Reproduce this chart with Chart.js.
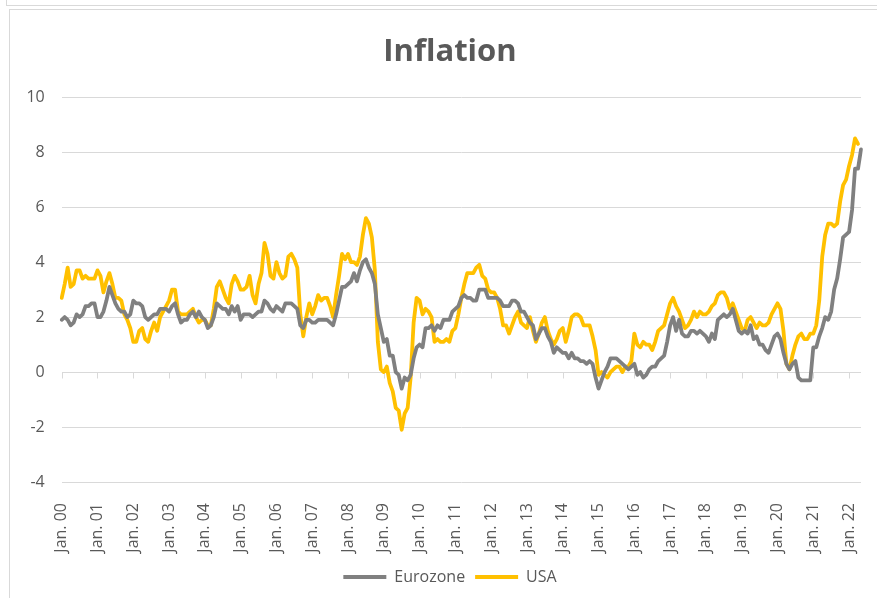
<!DOCTYPE html>
<html>
<head>
<meta charset="utf-8">
<script src="https://cdn.jsdelivr.net/npm/chart.js@4"></script>
<style>
  body { margin: 0; background: #fff; }
  #wrap { position: relative; width: 877px; height: 598px; overflow: hidden; }
  .frame { position: absolute; border: 1px solid #d9d9d9; }
  #frameTop { left: 6px; top: -20px; width: 900px; height: 24px; }
  #frameChart { left: 9px; top: 9px; width: 900px; height: 620px; }
  canvas { position: absolute; left: 0; top: 0; }
</style>
</head>
<body>
<div id="wrap">
  <div class="frame" id="frameTop"></div>
  <div class="frame" id="frameChart"></div>
  <!-- the original chart runs on past the right edge of the shot, so the canvas does too -->
  <canvas id="chart" width="900" height="598"></canvas>
</div>
<script>
/* ==========================
   DATA
========================== */
const monthNames = ["Jan.", "Feb.", "Mar.", "Apr.", "May", "Jun.", "Jul.", "Aug.", "Sep.", "Oct.", "Nov.", "Dec."];
const years = ["00", "01", "02", "03", "04", "05", "06", "07", "08", "09", "10",
               "11", "12", "13", "14", "15", "16", "17", "18", "19", "20", "21", "22"];
const lastMonth = 5; // data runs to May 2022

const yTicks = [-4, -2, 0, 2, 4, 6, 8, 10];

// year-on-year inflation, %, monthly from Jan. 2000
const eurozone = [
    1.9, 2.0, 1.9, 1.7, 1.8, 2.1, 2.0, 2.1, 2.4, 2.4, 2.5, 2.5,
    2.0, 2.0, 2.2, 2.6, 3.1, 2.8, 2.5, 2.3, 2.2, 2.2, 2.0, 2.1,
    2.6, 2.5, 2.5, 2.4, 2.0, 1.9, 2.0, 2.1, 2.1, 2.3, 2.3, 2.3,
    2.2, 2.4, 2.5, 2.1, 1.8, 1.9, 1.9, 2.1, 2.2, 2.0, 2.2, 2.0,
    1.9, 1.6, 1.7, 2.0, 2.5, 2.4, 2.3, 2.3, 2.1, 2.4, 2.2, 2.4,
    1.9, 2.1, 2.1, 2.1, 2.0, 2.1, 2.2, 2.2, 2.6, 2.5, 2.3, 2.2,
    2.4, 2.3, 2.2, 2.5, 2.5, 2.5, 2.4, 2.3, 1.7, 1.6, 1.9, 1.9,
    1.8, 1.8, 1.9, 1.9, 1.9, 1.9, 1.8, 1.7, 2.1, 2.6, 3.1, 3.1,
    3.2, 3.3, 3.6, 3.3, 3.7, 4.0, 4.1, 3.8, 3.6, 3.2, 2.1, 1.6,
    1.1, 1.2, 0.6, 0.6, 0.0, -0.1, -0.6, -0.2, -0.3, -0.1, 0.5, 0.9,
    1.0, 0.9, 1.6, 1.6, 1.7, 1.5, 1.7, 1.6, 1.9, 1.9, 1.9, 2.2,
    2.3, 2.4, 2.7, 2.8, 2.7, 2.7, 2.6, 2.6, 3.0, 3.0, 3.0, 2.7,
    2.7, 2.7, 2.7, 2.6, 2.4, 2.4, 2.4, 2.6, 2.6, 2.5, 2.2, 2.2,
    2.0, 1.8, 1.7, 1.2, 1.4, 1.6, 1.6, 1.3, 1.1, 0.7, 0.9, 0.8,
    0.7, 0.7, 0.5, 0.7, 0.5, 0.5, 0.4, 0.4, 0.3, 0.4, 0.3, -0.2,
    -0.6, -0.3, 0.0, 0.2, 0.5, 0.5, 0.5, 0.4, 0.3, 0.2, 0.1, 0.2,
    0.3, -0.1, 0.0, -0.2, -0.1, 0.1, 0.2, 0.2, 0.4, 0.5, 0.6, 1.1,
    1.7, 2.0, 1.5, 1.9, 1.4, 1.3, 1.3, 1.5, 1.5, 1.4, 1.5, 1.4,
    1.3, 1.1, 1.4, 1.2, 1.9, 2.0, 2.1, 2.0, 2.1, 2.3, 1.9, 1.5,
    1.4, 1.5, 1.4, 1.7, 1.2, 1.3, 1.0, 1.0, 0.8, 0.7, 1.0, 1.3,
    1.4, 1.2, 0.7, 0.3, 0.1, 0.3, 0.4, -0.2, -0.3, -0.3, -0.3, -0.3,
    0.9, 0.9, 1.3, 1.6, 2.0, 1.9, 2.2, 3.0, 3.4, 4.1, 4.9, 5.0,
    5.1, 5.9, 7.4, 7.4, 8.1
];

const usa = [
    2.7, 3.2, 3.8, 3.1, 3.2, 3.7, 3.7, 3.4, 3.5, 3.4, 3.4, 3.4,
    3.7, 3.5, 2.9, 3.3, 3.6, 3.2, 2.7, 2.7, 2.6, 2.1, 1.9, 1.6,
    1.1, 1.1, 1.5, 1.6, 1.2, 1.1, 1.5, 1.8, 1.5, 2.0, 2.2, 2.4,
    2.6, 3.0, 3.0, 2.2, 2.1, 2.1, 2.1, 2.2, 2.3, 2.0, 1.8, 1.9,
    1.9, 1.7, 1.7, 2.3, 3.1, 3.3, 3.0, 2.7, 2.5, 3.2, 3.5, 3.3,
    3.0, 3.0, 3.1, 3.5, 2.8, 2.5, 3.2, 3.6, 4.7, 4.3, 3.5, 3.4,
    4.0, 3.6, 3.4, 3.5, 4.2, 4.3, 4.1, 3.8, 2.1, 1.3, 2.0, 2.5,
    2.1, 2.4, 2.8, 2.6, 2.7, 2.7, 2.4, 2.0, 2.8, 3.5, 4.3, 4.1,
    4.3, 4.0, 4.0, 3.9, 4.2, 5.0, 5.6, 5.4, 4.9, 3.7, 1.1, 0.1,
    0.0, 0.2, -0.4, -0.7, -1.3, -1.4, -2.1, -1.5, -1.3, -0.2, 1.8, 2.7,
    2.6, 2.1, 2.3, 2.2, 2.0, 1.1, 1.2, 1.1, 1.1, 1.2, 1.1, 1.5,
    1.6, 2.1, 2.7, 3.2, 3.6, 3.6, 3.6, 3.8, 3.9, 3.5, 3.4, 3.0,
    2.9, 2.9, 2.7, 2.3, 1.7, 1.7, 1.4, 1.7, 2.0, 2.2, 1.8, 1.7,
    1.6, 2.0, 1.5, 1.1, 1.4, 1.8, 2.0, 1.5, 1.2, 1.0, 1.2, 1.5,
    1.6, 1.1, 1.5, 2.0, 2.1, 2.1, 2.0, 1.7, 1.7, 1.7, 1.3, 0.8,
    -0.1, 0.0, -0.1, -0.2, 0.0, 0.1, 0.2, 0.2, 0.0, 0.2, 0.2, 0.4,
    1.4, 1.0, 0.9, 1.1, 1.0, 1.0, 0.8, 1.1, 1.5, 1.6, 1.7, 2.1,
    2.5, 2.7, 2.4, 2.2, 1.9, 1.6, 1.7, 1.9, 2.2, 2.0, 2.2, 2.1,
    2.1, 2.2, 2.4, 2.5, 2.8, 2.9, 2.9, 2.7, 2.3, 2.5, 2.2, 1.9,
    1.6, 1.5, 1.9, 2.0, 1.8, 1.6, 1.8, 1.7, 1.7, 1.8, 2.1, 2.3,
    2.5, 2.3, 1.5, 0.3, 0.1, 0.6, 1.0, 1.3, 1.4, 1.2, 1.2, 1.4,
    1.4, 1.7, 2.6, 4.2, 5.0, 5.4, 5.4, 5.3, 5.4, 6.2, 6.8, 7.0,
    7.5, 7.9, 8.5, 8.3
];

/* ==========================
   STYLE
========================== */
const FONT = "'Open Sans', 'DejaVu Sans', sans-serif";
const TEXT = "#595959";
const GRID = "#d9d9d9";

// category labels "Jan. 00" ... "May 22"
const labels = years.flatMap(y => monthNames.map(m => `${m} ${y}`))
    .slice(0, (years.length - 1) * 12 + lastMonth);

// short tick marks hanging under the zero line, one per January
const zeroAxisTicks = {
    id: "zeroAxisTicks",
    beforeDatasetsDraw(chart) {
        const { ctx, scales: { x, y } } = chart;
        const y0 = Math.round(y.getPixelForValue(0)) + 0.5;
        ctx.save();
        ctx.strokeStyle = GRID;
        ctx.lineWidth = 1;
        labels.forEach((l, i) => {
            if (i % 12) return;
            const px = Math.round(x.getPixelForValue(i)) + 0.5;
            ctx.beginPath();
            ctx.moveTo(px, y0);
            ctx.lineTo(px, y0 + 6);
            ctx.stroke();
        });
        ctx.restore();
    }
};

/* ==========================
   CHART
========================== */
new Chart(document.getElementById("chart"), {
    type: "line",
    data: {
        labels: labels,
        datasets: [
            {
                label: "Eurozone",
                data: eurozone,
                borderColor: "#808080",
                backgroundColor: "#808080",
                borderWidth: 3.8
            },
            {
                label: "USA",
                data: usa,
                borderColor: "#ffc000",
                backgroundColor: "#ffc000",
                borderWidth: 3.8
            }
        ]
    },
    options: {
        responsive: false,
        animation: false,
        devicePixelRatio: 1,
        layout: { padding: { top: 10, right: 0, bottom: 3, left: 0 } },
        elements: {
            point: { radius: 0 },
            line: { tension: 0, borderJoinStyle: "round", borderCapStyle: "round" }
        },
        plugins: {
            title: {
                display: true,
                text: "Inflation",
                color: TEXT,
                font: { family: FONT, size: 31, weight: "bold" },
                padding: { top: 24, bottom: 26 }
            },
            legend: {
                position: "bottom",
                labels: {
                    color: TEXT,
                    font: { family: FONT, size: 16 },
                    usePointStyle: true,
                    pointStyle: "line",
                    pointStyleWidth: 43,
                    padding: 10
                }
            },
            tooltip: { enabled: false }
        },
        scales: {
            x: {
                offset: false,
                grid: { display: false },
                border: { display: false },
                ticks: {
                    autoSkip: false,
                    minRotation: 90,
                    maxRotation: 90,
                    padding: 13,
                    color: TEXT,
                    font: { family: FONT, size: 16 },
                    callback(val, i) {
                        return i % 12 === 0 ? this.getLabelForValue(val) : null;
                    }
                },
                afterFit(scale) { scale.height = 77; }
            },
            y: {
                min: yTicks[0],
                max: yTicks[yTicks.length - 1],
                afterBuildTicks(scale) { scale.ticks = yTicks.map(v => ({ value: v })); },
                grid: { color: GRID, drawTicks: false },
                border: { display: false },
                ticks: {
                    padding: 17,
                    color: TEXT,
                    font: { family: FONT, size: 16 }
                },
                afterFit(scale) { scale.width = 61.7; }
            },
            // empty right-hand margin of the plot, no marks
            yRight: {
                position: "right",
                min: yTicks[0],
                max: yTicks[yTicks.length - 1],
                grid: { display: false },
                border: { display: false },
                ticks: { display: false },
                afterFit(scale) { scale.width = 39; }
            }
        }
    },
    plugins: [zeroAxisTicks]
});
</script>
</body>
</html>
